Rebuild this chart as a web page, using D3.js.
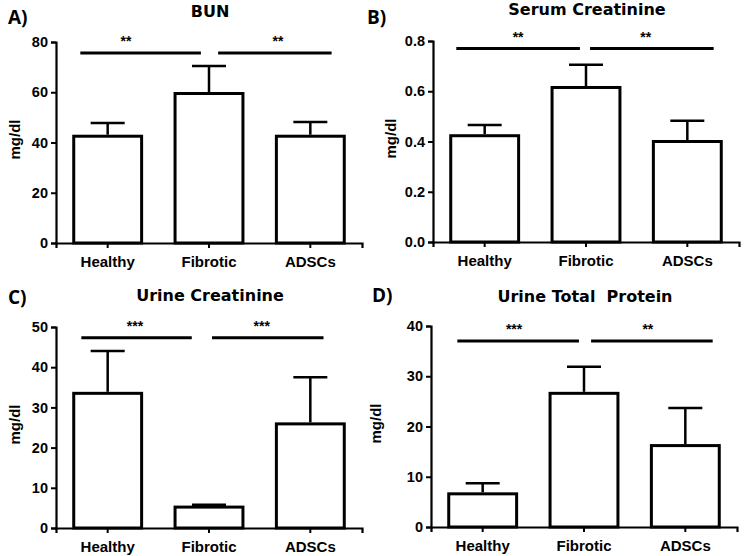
<!DOCTYPE html>
<html>
<head>
<meta charset="utf-8">
<script src="https://cdn.jsdelivr.net/npm/d3@7"></script>
<style>
  body { margin: 0; background: #fff; }
  text { fill: #000; }
</style>
</head>
<body>
<div id="chart-area"></div>
<script>
// groups on the x axis
const groups = ["Healthy", "Fibrotic", "ADSCs"]

// A) BUN
const bunMean = [42.5, 59.5, 42.5]
const bunSem = [5.3, 10.9, 5.7]
const bunTicks = [0, 20, 40, 60, 80]
const bunSig = [
    { from: -0.27, to: 0.92, at: 0.18, y: 75.6, label: "**" },
    { from: 1.09, to: 2.21, at: 1.68, y: 75.6, label: "**" }
]

// B) Serum creatinine
const serumMean = [0.423, 0.615, 0.40]
const serumSem = [0.043, 0.09, 0.083]
const serumTicks = [0, 0.2, 0.4, 0.6, 0.8]
const serumSig = [
    { from: -0.28, to: 0.94, at: 0.33, y: 0.77, label: "**" },
    { from: 1.04, to: 2.26, at: 1.59, y: 0.77, label: "**" }
]

// C) Urine creatinine
const urineCrMean = [33.5, 5.2, 25.9]
const urineCrSem = [10.5, 0.6, 11.6]
const urineCrTicks = [0, 10, 20, 30, 40, 50]
const urineCrSig = [
    { from: -0.26, to: 0.83, at: 0.27, y: 47.3, label: "***" },
    { from: 1.03, to: 2.13, at: 1.52, y: 47.3, label: "***" }
]

// D) Urine total protein
const proteinMean = [6.6, 26.6, 16.2]
const proteinSem = [2.1, 5.3, 7.5]
const proteinTicks = [0, 10, 20, 30, 40]
const proteinSig = [
    { from: -0.25, to: 0.95, at: 0.31, y: 37.0, label: "***" },
    { from: 1.07, to: 2.27, at: 1.63, y: 37.0, label: "**" }
]

const panels = [
    { letter: "A)", title: "BUN", mean: bunMean, sem: bunSem, ticks: bunTicks, sig: bunSig, fmt: d3.format("d"),
      ox: 56, oy: 243, lx: 8, ly: 24, ty: 17, yl: 20 },
    { letter: "B)", title: "Serum Creatinine", mean: serumMean, sem: serumSem, ticks: serumTicks, sig: serumSig, fmt: d3.format(".1f"),
      ox: 433, oy: 242, lx: 367, ly: 24, ty: 15, yl: 396 },
    { letter: "C)", title: "Urine Creatinine", mean: urineCrMean, sem: urineCrSem, ticks: urineCrTicks, sig: urineCrSig, fmt: d3.format("d"),
      ox: 56, oy: 528, lx: 8, ly: 304, ty: 301, yl: 20 },
    { letter: "D)", title: "Urine Total  Protein", mean: proteinMean, sem: proteinSem, ticks: proteinTicks, sig: proteinSig, fmt: d3.format("d"),
      ox: 431, oy: 527, lx: 372, ly: 302, ty: 302, yl: 381 }
]

const W = 745, H = 556
const PLOT_W = 306, PLOT_H = 201

const svg = d3.select("#chart-area").append("svg")
    .attr("width", W)
    .attr("height", H)

const tickFont = "'Liberation Sans', Arial, sans-serif"

panels.forEach(p => {
    const g = svg.append("g")
        .attr("transform", `translate(${p.ox}, ${p.oy - PLOT_H})`)

    // scales
    const x = d3.scaleBand()
        .domain(groups)
        .range([0, PLOT_W])
        .paddingInner(0.33)
        .paddingOuter(0.175)
    const y = d3.scaleLinear()
        .domain([0, d3.max(p.ticks)])
        .range([PLOT_H, 0])
    const pos = d3.scaleLinear()
        .domain([0, 2])
        .range([x(groups[0]) + x.bandwidth() / 2, x(groups[2]) + x.bandwidth() / 2])

    const rows = groups.map((k, i) => ({ group: k, mean: p.mean[i], sem: p.sem[i] }))

    // bars
    g.selectAll(".bar").data(rows).enter().append("rect")
        .attr("class", "bar")
        .attr("x", d => x(d.group))
        .attr("y", d => y(d.mean))
        .attr("width", x.bandwidth())
        .attr("height", d => y(0) - y(d.mean))
        .attr("fill", "#fff")
        .attr("stroke", "#000")
        .attr("stroke-width", 3)

    // error bars (upper only)
    const eb = g.selectAll(".err").data(rows).enter().append("g")
        .attr("class", "err")
        .attr("stroke", "#000")
        .attr("stroke-width", 2.5)
    eb.append("line")
        .attr("x1", d => x(d.group) + x.bandwidth() / 2)
        .attr("x2", d => x(d.group) + x.bandwidth() / 2)
        .attr("y1", d => y(d.mean) - 1.5)
        .attr("y2", d => y(d.mean + d.sem))
    eb.append("line")
        .attr("x1", d => x(d.group) + x.bandwidth() / 2 - 17)
        .attr("x2", d => x(d.group) + x.bandwidth() / 2 + 17)
        .attr("y1", d => y(d.mean + d.sem))
        .attr("y2", d => y(d.mean + d.sem))

    // axes
    const xAxis = g.append("g")
        .attr("transform", `translate(0, ${PLOT_H})`)
        .call(d3.axisBottom(x).tickSizeOuter(0).tickSize(5).tickPadding(8))
    const yAxis = g.append("g")
        .call(d3.axisLeft(y).tickValues(p.ticks).tickFormat(p.fmt).tickSizeOuter(0).tickSize(5).tickPadding(3))

    ;[xAxis, yAxis].forEach(a => {
        a.select(".domain").attr("stroke-width", 2.2)
        a.selectAll(".tick line").attr("stroke-width", 2)
        a.selectAll("text")
            .attr("font-family", tickFont)
            .attr("font-weight", "bold")
            .attr("fill", "#000")
    })
    xAxis.selectAll("text").attr("font-size", "15px")
    yAxis.selectAll("text").attr("font-size", "14.5px")

    // y label (rotated: the "y" attribute is the horizontal offset)
    g.append("text")
        .attr("transform", "rotate(-90)")
        .attr("x", -PLOT_H / 2 + 3)
        .attr("y", p.yl - p.ox)
        .attr("text-anchor", "middle")
        .attr("font-family", tickFont)
        .attr("font-weight", "bold")
        .attr("font-size", "15px")
        .text("mg/dl")

    // significance lines
    g.selectAll(".sig").data(p.sig).enter().append("line")
        .attr("class", "sig")
        .attr("x1", d => pos(d.from))
        .attr("x2", d => pos(d.to))
        .attr("y1", d => y(d.y))
        .attr("y2", d => y(d.y))
        .attr("stroke", "#000")
        .attr("stroke-width", 3)
    g.selectAll(".star").data(p.sig).enter().append("text")
        .attr("class", "star")
        .attr("x", d => pos(d.at))
        .attr("y", d => y(d.y) - 7)
        .attr("text-anchor", "middle")
        .attr("font-family", tickFont)
        .attr("font-weight", "bold")
        .attr("font-size", "14px")
        .text(d => d.label)

    // title
    svg.append("text")
        .attr("x", p.ox + 154)
        .attr("y", p.ty)
        .attr("text-anchor", "middle")
        .attr("font-family", "'DejaVu Sans', Verdana, sans-serif")
        .attr("font-weight", "bold")
        .attr("font-size", "16px")
        .style("white-space", "pre")
        .text(p.title)

    // panel letter
    svg.append("text")
        .attr("x", p.lx)
        .attr("y", p.ly)
        .attr("font-family", "'Open Sans', sans-serif")
        .attr("font-weight", "bold")
        .attr("font-size", "19px")
        .text(p.letter)
})
</script>
</body>
</html>
